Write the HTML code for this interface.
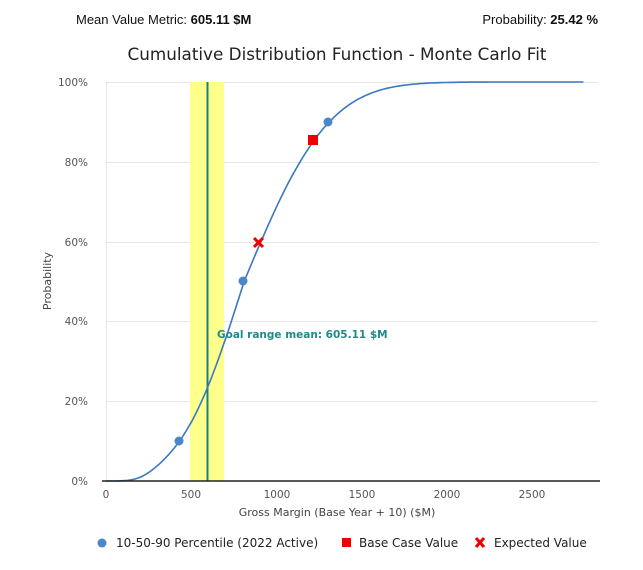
<!DOCTYPE html>
<html><head><style>
body{margin:0;background:#fff;width:643px;height:565px;overflow:hidden;font-family:"Liberation Sans",sans-serif}
</style></head><body>
<svg id="s" width="643" height="565" xmlns="http://www.w3.org/2000/svg" font-family="DejaVu Sans, Liberation Sans, sans-serif">
<text x="76" y="24" font-family="Liberation Sans" font-size="13" fill="#111">Mean Value Metric: <tspan font-weight="bold">605.11 $M</tspan></text>
<text x="598" y="24" font-family="Liberation Sans" font-size="13" fill="#111" text-anchor="end">Probability: <tspan font-weight="bold">25.42 %</tspan></text>
<text x="337" y="60" font-size="16.8" fill="#222" text-anchor="middle">Cumulative Distribution Function - Monte Carlo Fit</text>
<g stroke="#e6e6e6" stroke-width="1">
<line x1="106" x2="598" y1="82.5" y2="82.5"/><line x1="106" x2="598" y1="162.5" y2="162.5"/>
<line x1="106" x2="598" y1="242.5" y2="242.5"/><line x1="106" x2="598" y1="321.5" y2="321.5"/>
<line x1="106" x2="598" y1="401.5" y2="401.5"/>
<line x1="106.5" x2="106.5" y1="82" y2="481"/>
</g>
<rect x="190" y="82" width="34" height="399" fill="#ffff80" opacity="0.9"/>
<line x1="207.5" x2="207.5" y1="82" y2="481" stroke="#1a7f7f" stroke-width="2"/>
<g font-size="10.5" fill="#555" text-anchor="end">
<text x="88" y="86">100%</text><text x="88" y="166">80%</text><text x="88" y="246">60%</text>
<text x="88" y="325">40%</text><text x="88" y="405">20%</text><text x="88" y="485">0%</text>
</g>
<g font-size="10.5" fill="#555" text-anchor="middle">
<text x="106" y="498">0</text><text x="191" y="498">500</text><text x="277" y="498">1000</text>
<text x="362" y="498">1500</text><text x="447" y="498">2000</text><text x="532" y="498">2500</text>
</g>
<text x="337" y="516" font-size="11" fill="#444" text-anchor="middle">Gross Margin (Base Year + 10) ($M)</text>
<text transform="translate(51,281) rotate(-90)" font-size="11" fill="#444" text-anchor="middle">Probability</text>
<path id="c" fill="none" stroke="#3a78c0" stroke-width="1.6"/>
<line x1="102" x2="600" y1="481" y2="481" stroke="#222" stroke-width="1.5"/>
<text x="217" y="338" font-size="10.5" font-weight="bold" fill="#1f8a8a">Goal range mean: 605.11 $M</text>
<circle cx="179" cy="441" r="4.5" fill="#4a86c8"/>
<circle cx="243" cy="281" r="4.5" fill="#4a86c8"/>
<circle cx="328" cy="122" r="4.5" fill="#4a86c8"/>
<rect x="308" y="135" width="10" height="10" fill="#e00"/>
<g stroke="#e00" stroke-width="3"><line x1="254" y1="238" x2="263" y2="247"/><line x1="263" y1="238" x2="254" y2="247"/></g>
<circle cx="102" cy="543" r="4.5" fill="#4a86c8"/>
<text x="116" y="547" font-size="12" fill="#222">10-50-90 Percentile (2022 Active)</text>
<rect x="342" y="538" width="9" height="9" fill="#e00"/>
<text x="359" y="547" font-size="12" fill="#222">Base Case Value</text>
<g stroke="#e00" stroke-width="3"><line x1="476" y1="538" x2="484" y2="547"/><line x1="484" y1="538" x2="476" y2="547"/></g>
<text x="494" y="547" font-size="12" fill="#222">Expected Value</text>
</svg>
<script>
function erf(x){var s=x<0?-1:1;x=Math.abs(x);var t=1/(1+0.3275911*x);var y=1-(((((1.061405429*t-1.453152027)*t)+1.421413741)*t-0.284496736)*t+0.254829592)*t*Math.exp(-x*x);return s*y;}
function F(v){var sd=v<810?296:390;var f=0.5*(1+erf((v-810)/(sd*Math.SQRT2)));if(v<810)f*=1-Math.exp(-Math.pow(v/230,3));return f;}
var d="";for(var v=0;v<=2800;v+=10){var x=106+0.1705*v,y=481-399*F(v);d+=(v?"L":"M")+x.toFixed(1)+","+y.toFixed(1);}
document.getElementById("c").setAttribute("d",d);
</script>
</body></html>
